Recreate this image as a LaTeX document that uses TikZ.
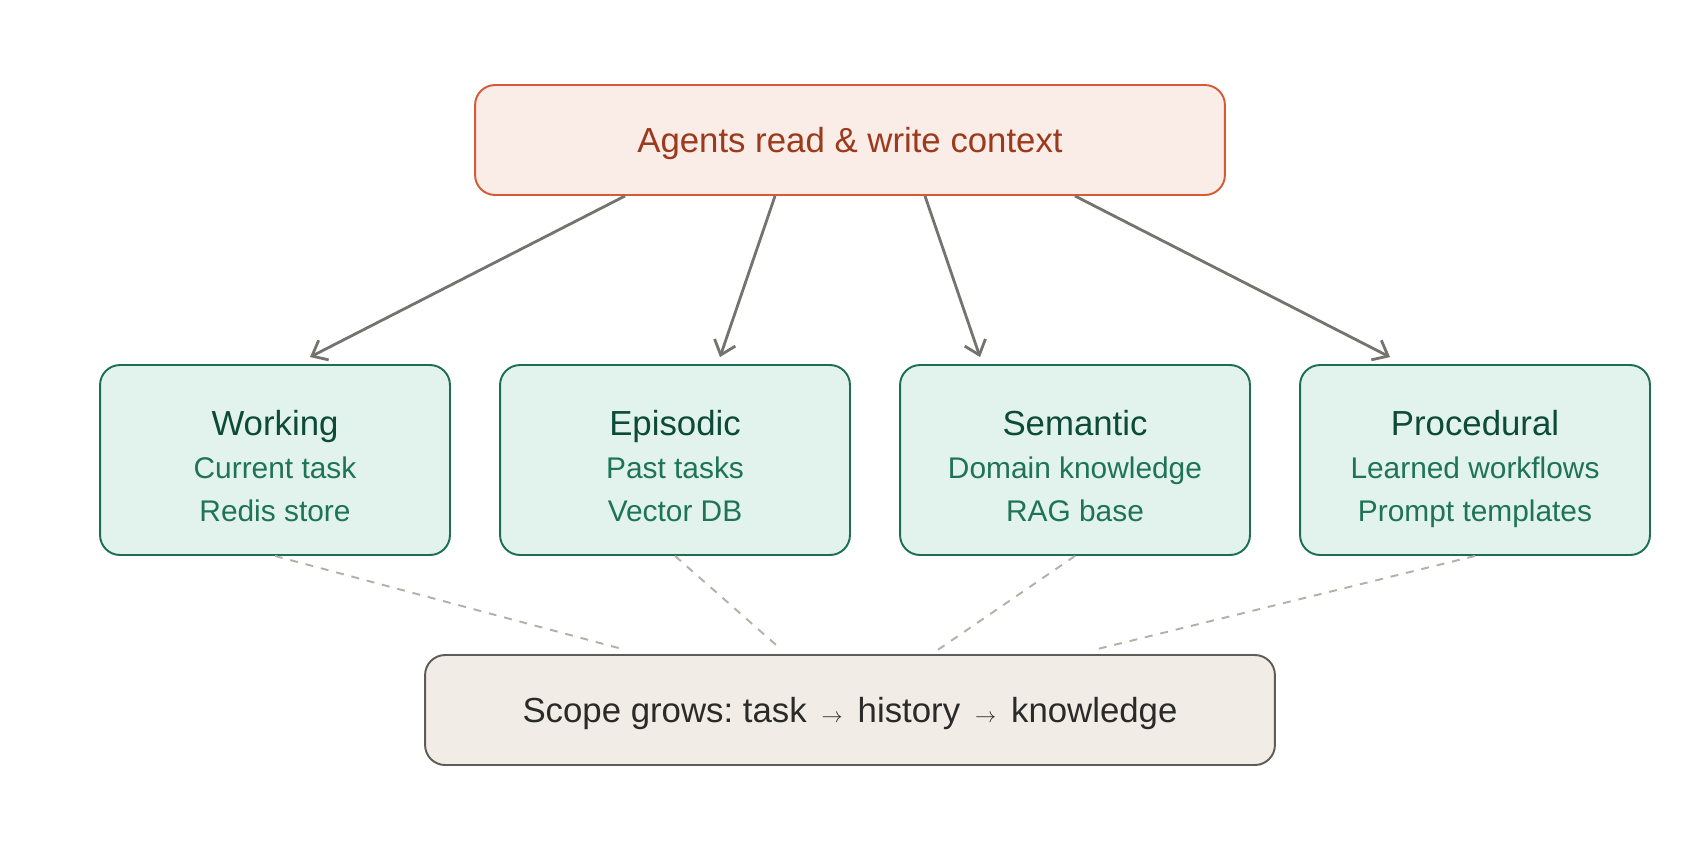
\documentclass[tikz,border=0pt]{standalone}
\usepackage{fontspec}
\setmainfont{Liberation Sans}
\usepackage{xcolor}
\usepackage{tikz}
\usetikzlibrary{arrows.meta, calc}

\definecolor{agentfill}{HTML}{FAECE7}
\definecolor{agentdraw}{HTML}{D95A32}
\definecolor{agenttext}{HTML}{9B3A1C}
\definecolor{memfill}{HTML}{E1F3EC}
\definecolor{memdraw}{HTML}{1D6E52}
\definecolor{memtitle}{HTML}{0D4A37}
\definecolor{memtext}{HTML}{1F7358}
\definecolor{scopefill}{HTML}{F1EDE6}
\definecolor{scopedraw}{HTML}{5F5B57}
\definecolor{scopetext}{HTML}{2B2A28}
\definecolor{arrowgray}{HTML}{75736D}
\definecolor{dashgray}{HTML}{B3B0AA}

\frenchspacing

\begin{document}
\begin{tikzpicture}[
    x=0.02cm, y=-0.02cm,
    agents/.style={draw=agentdraw, fill=agentfill, line width=1.1pt,
                   rounded corners=0.4cm, minimum width=15cm, minimum height=2.2cm,
                   text height=14.2pt, text depth=0pt,
                   text=agenttext, font=\fontsize{19.8}{24.4}\selectfont},
    memory/.style={draw=memdraw, fill=memfill, line width=1.1pt,
                   rounded corners=0.4cm, minimum width=7cm, minimum height=3.8cm,
                   align=center, text=memtext, font=\fontsize{17}{24.4}\selectfont},
    scope/.style={draw=scopedraw, fill=scopefill, line width=1.1pt,
                  rounded corners=0.4cm, minimum width=17cm, minimum height=2.2cm,
                  text height=14.2pt, text depth=0pt,
                  text=scopetext, font=\fontsize{19.8}{24.4}\selectfont},
    arrow/.style={-{Straight Barb[length=7.5pt, width=12.5pt]}, line width=1.6pt,
                  draw=arrowgray},
    link/.style={draw=dashgray, line width=1.1pt, dash pattern=on 4.5pt off 4.5pt}
]
    \useasboundingbox (0,0) rectangle (1700,850);

    % ── Agents (top) ──
    \node[agents] (Agents) at (850,140) {Agents read \& write context};

    % ── Memory types ──
    \node[memory] (Working) at (275,460) {
        \rule{0pt}{25pt}{\fontsize{19.8}{24.4}\selectfont\color{memtitle}Working} \\
        Current task \\
        Redis store\rule[-4pt]{0pt}{4pt}
    };

    \node[memory] (Episodic) at (675,460) {
        \rule{0pt}{25pt}{\fontsize{19.8}{24.4}\selectfont\color{memtitle}Episodic} \\
        Past tasks \\
        Vector DB\rule[-4pt]{0pt}{4pt}
    };

    \node[memory] (Semantic) at (1075,460) {
        \rule{0pt}{25pt}{\fontsize{19.8}{24.4}\selectfont\color{memtitle}Semantic} \\
        Domain knowledge \\
        RAG base\rule[-4pt]{0pt}{4pt}
    };

    \node[memory] (Procedural) at (1475,460) {
        \rule{0pt}{25pt}{\fontsize{19.8}{24.4}\selectfont\color{memtitle}Procedural} \\
        Learned workflows \\
        Prompt templates\rule[-4pt]{0pt}{4pt}
    };

    % ── Scope (bottom) ──
    \node[scope] (Scope) at (850,710) {Scope grows: task\hspace{3pt} {\fontsize{12}{14}\selectfont$\rightarrow$} \hspace{3pt}history\hspace{3pt} {\fontsize{12}{14}\selectfont$\rightarrow$} \hspace{3pt}knowledge};

    % ── Read / write ──
    \draw[arrow] ([xshift=-4.5cm]Agents.south) -- ([xshift=0.7cm, yshift=0.14cm]Working.north);
    \draw[arrow] ([xshift=-1.5cm]Agents.south) -- ([xshift=0.9cm, yshift=0.14cm]Episodic.north);
    \draw[arrow] ([xshift=1.5cm]Agents.south) -- ([xshift=-1.9cm, yshift=0.14cm]Semantic.north);
    \draw[arrow] ([xshift=4.5cm]Agents.south) -- ([xshift=-1.7cm, yshift=0.14cm]Procedural.north);

    % ── Scope links ──
    \foreach \m in {Working, Episodic, Semantic, Procedural}
        \draw[link] (\m.south) -- ($(\m.south)!0.61!(Scope.center)$);

\end{tikzpicture}
\end{document}
